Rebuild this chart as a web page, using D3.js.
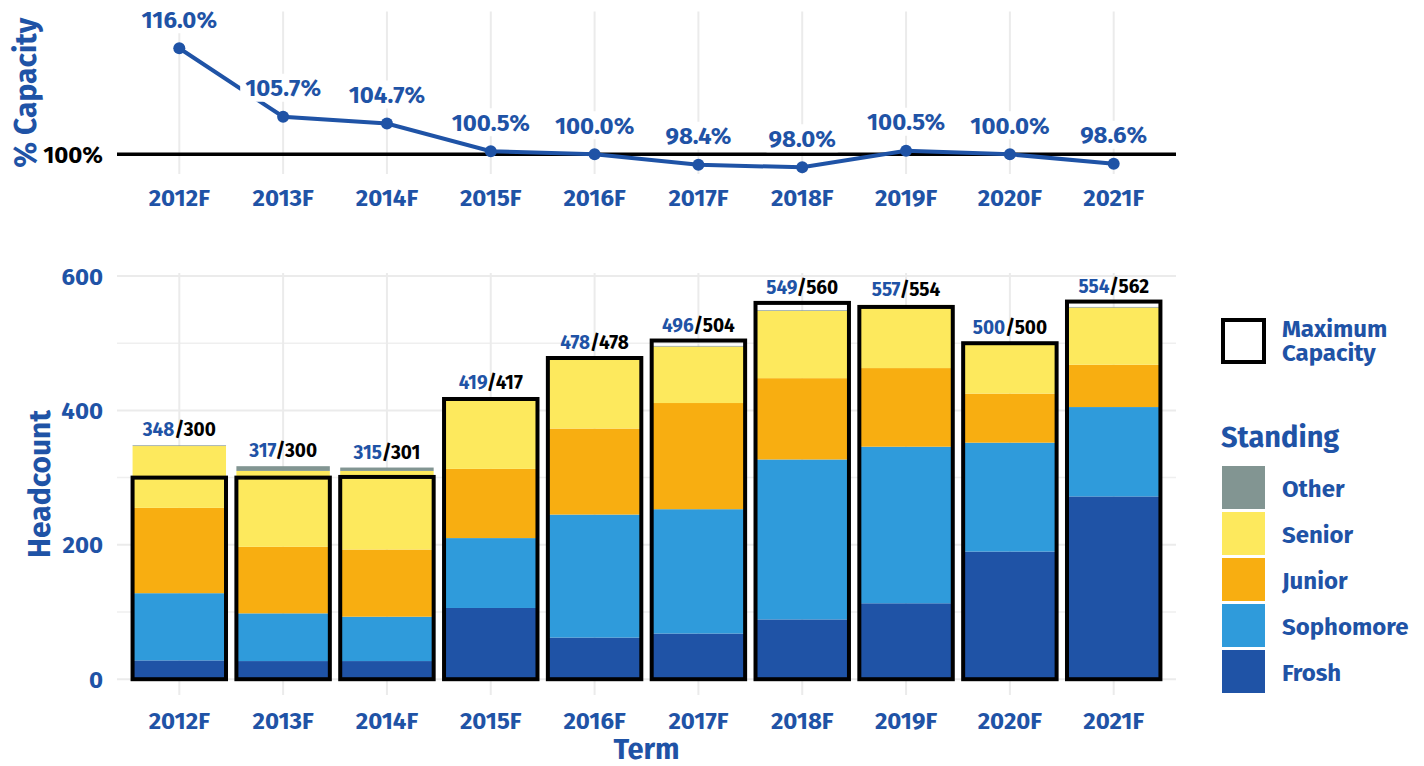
<!DOCTYPE html>
<html>
<head>
<meta charset="utf-8">
<script src="https://cdn.jsdelivr.net/npm/d3@7"></script>
<style>
  body { margin: 0; background: #fff; }
  text { font-family: "Fira Sans", "Open Sans", sans-serif; font-weight: 700; }
</style>
</head>
<body>
<svg id="chart" width="1424" height="766"></svg>
<script>
// Data
const terms = ["2012F", "2013F", "2014F", "2015F", "2016F", "2017F", "2018F", "2019F", "2020F", "2021F"];
const frosh     = [28, 27, 27, 106, 62, 68, 89, 113, 190, 272];
const sophomore = [100, 71, 66, 104, 183, 185, 238, 233, 162, 133];
const junior    = [127, 99, 100, 103, 128, 158, 121, 117, 73, 63];
const senior    = [92, 113, 117, 106, 105, 84, 100, 94, 75, 85];
const other     = [1, 7, 5, 0, 0, 1, 1, 0, 0, 1];
const capacity  = [300, 300, 301, 417, 478, 504, 560, 554, 500, 562];
const headTicks = [0, 200, 400, 600];
const headMinor = [100, 300, 500];

const standings = ["Frosh", "Sophomore", "Junior", "Senior", "Other"];
const colors = {
    Frosh: "#1f53a6",
    Sophomore: "#2f9bdb",
    Junior: "#f8ae11",
    Senior: "#fde95d",
    Other: "#829592"
};
const blue = "#1f53a6";

const rows = terms.map((t, i) => ({
    term: t,
    Frosh: frosh[i], Sophomore: sophomore[i], Junior: junior[i], Senior: senior[i], Other: other[i],
    capacity: capacity[i]
}));
rows.forEach(r => {
    r.total = standings.reduce((s, k) => s + r[k], 0);
    r.pct = r.total / r.capacity * 100;
});

const svg = d3.select("#chart");

// shared x scale
const x = d3.scalePoint().domain(terms).range([117, 1176]).padding(0.6);
const barW = x.step() * 0.9;

// ---------- top panel: % capacity ----------
const yTop = d3.scaleLinear().domain([97.03, 121.55]).range([174, 11.5]);
const topG = svg.append("g");

topG.selectAll(".vgrid").data(terms).join("line")
    .attr("x1", d => x(d)).attr("x2", d => x(d))
    .attr("y1", yTop.range()[1]).attr("y2", yTop.range()[0])
    .attr("stroke", "#ebebeb").attr("stroke-width", 2);

topG.append("line")
    .attr("x1", 117).attr("x2", 1176)
    .attr("y1", yTop(100)).attr("y2", yTop(100))
    .attr("stroke", "#000").attr("stroke-width", 3.5);

topG.append("text")
    .attr("x", 103).attr("y", yTop(100)).attr("dy", "0.36em")
    .attr("text-anchor", "end").attr("font-size", 24).attr("fill", "#000")
    .text("100%");

topG.append("path").datum(rows)
    .attr("fill", "none").attr("stroke", blue).attr("stroke-width", 4)
    .attr("d", d3.line().x(d => x(d.term)).y(d => yTop(d.pct)));

topG.selectAll(".pt").data(rows).join("circle")
    .attr("cx", d => x(d.term)).attr("cy", d => yTop(d.pct)).attr("r", 6)
    .attr("fill", blue);

// labels with white background (like geom_label without border)
const labs = topG.selectAll(".plab").data(rows).join("g")
    .attr("transform", d => `translate(${x(d.term)},${yTop(d.pct) - 29})`);
labs.append("rect").attr("rx", 4).attr("fill", "#fff");
const labText = labs.append("text")
    .attr("text-anchor", "middle").attr("dy", "0.36em")
    .attr("font-size", 24).attr("fill", blue)
    .text(d => d.pct.toFixed(1) + "%");
labText.each(function () {
    const b = this.getBBox();
    d3.select(this.previousSibling)
        .attr("x", b.x - 5).attr("width", b.width + 10)
        .attr("y", -14).attr("height", 28);
});

topG.selectAll(".xt").data(terms).join("text")
    .attr("x", d => x(d)).attr("y", 197).attr("dy", "0.36em")
    .attr("text-anchor", "middle").attr("font-size", 24).attr("fill", blue)
    .text(d => d);

topG.append("text")
    .attr("transform", `translate(25,${(yTop.range()[0] + yTop.range()[1]) / 2}) rotate(-90)`)
    .attr("text-anchor", "middle").attr("dy", "0.36em")
    .attr("font-size", 30).attr("fill", blue)
    .text("% Capacity");

// ---------- bottom panel: headcount ----------
const yBot = d3.scaleLinear().domain([-23.5, 604.5]).range([695, 273]);
const botG = svg.append("g");

botG.selectAll(".hminor").data(headMinor).join("line")
    .attr("x1", 117).attr("x2", 1176)
    .attr("y1", d => yBot(d)).attr("y2", d => yBot(d))
    .attr("stroke", "#efefef").attr("stroke-width", 1.5);
botG.selectAll(".hmajor").data(headTicks).join("line")
    .attr("x1", 117).attr("x2", 1176)
    .attr("y1", d => yBot(d)).attr("y2", d => yBot(d))
    .attr("stroke", "#ebebeb").attr("stroke-width", 2);
botG.selectAll(".vgrid").data(terms).join("line")
    .attr("x1", d => x(d)).attr("x2", d => x(d))
    .attr("y1", yBot.range()[1]).attr("y2", yBot.range()[0])
    .attr("stroke", "#ebebeb").attr("stroke-width", 2);

const stacked = d3.stack().keys(standings)(rows);
botG.selectAll(".layer").data(stacked).join("g")
    .attr("fill", d => colors[d.key])
    .selectAll("rect").data(d => d).join("rect")
    .attr("x", d => x(d.data.term) - barW / 2)
    .attr("width", barW)
    .attr("y", d => yBot(d[1]))
    .attr("height", d => yBot(d[0]) - yBot(d[1]));

botG.selectAll(".cap").data(rows).join("rect")
    .attr("x", d => x(d.term) - barW / 2)
    .attr("width", barW)
    .attr("y", d => yBot(d.capacity))
    .attr("height", d => yBot(0) - yBot(d.capacity))
    .attr("fill", "none").attr("stroke", "#000").attr("stroke-width", 4);

const hl = botG.selectAll(".hlab").data(rows).join("text")
    .attr("x", d => x(d.term))
    .attr("y", d => yBot(Math.max(d.total, d.capacity)) - 9)
    .attr("text-anchor", "middle").attr("font-size", 19);
hl.append("tspan").attr("fill", blue).text(d => d.total);
hl.append("tspan").attr("fill", "#000").text(d => "/" + d.capacity);

botG.selectAll(".yt").data(headTicks).join("text")
    .attr("x", 103).attr("y", d => yBot(d)).attr("dy", "0.36em")
    .attr("text-anchor", "end").attr("font-size", 24).attr("fill", blue)
    .text(d => d);

botG.selectAll(".xt").data(terms).join("text")
    .attr("x", d => x(d)).attr("y", 720).attr("dy", "0.36em")
    .attr("text-anchor", "middle").attr("font-size", 24).attr("fill", blue)
    .text(d => d);

botG.append("text")
    .attr("x", (117 + 1176) / 2).attr("y", 749).attr("dy", "0.36em")
    .attr("text-anchor", "middle").attr("font-size", 29).attr("fill", blue)
    .text("Term");

botG.append("text")
    .attr("transform", `translate(39,${(yBot.range()[0] + yBot.range()[1]) / 2}) rotate(-90)`)
    .attr("text-anchor", "middle").attr("dy", "0.36em")
    .attr("font-size", 30).attr("fill", blue)
    .text("Headcount");

// ---------- legend ----------
const leg = svg.append("g").attr("transform", "translate(1222,0)");
leg.append("rect")
    .attr("x", 1).attr("y", 320).attr("width", 41).attr("height", 42)
    .attr("fill", "#fff").attr("stroke", "#000").attr("stroke-width", 4);
const capLab = leg.append("text").attr("x", 60).attr("y", 337).attr("font-size", 24).attr("fill", blue);
capLab.append("tspan").attr("x", 60).text("Maximum");
capLab.append("tspan").attr("x", 60).attr("dy", 24).text("Capacity");

leg.append("text").attr("x", -1).attr("y", 447).attr("font-size", 29).attr("fill", blue).text("Standing");

const legOrder = standings.slice().reverse();
const li = leg.selectAll(".li").data(legOrder).join("g")
    .attr("transform", (d, i) => `translate(0,${466 + i * 46})`);
li.append("rect").attr("width", 43).attr("height", 43).attr("fill", d => colors[d]);
li.append("text").attr("x", 60).attr("y", 22).attr("dy", "0.36em")
    .attr("font-size", 24).attr("fill", blue).text(d => d);
</script>
</body>
</html>
